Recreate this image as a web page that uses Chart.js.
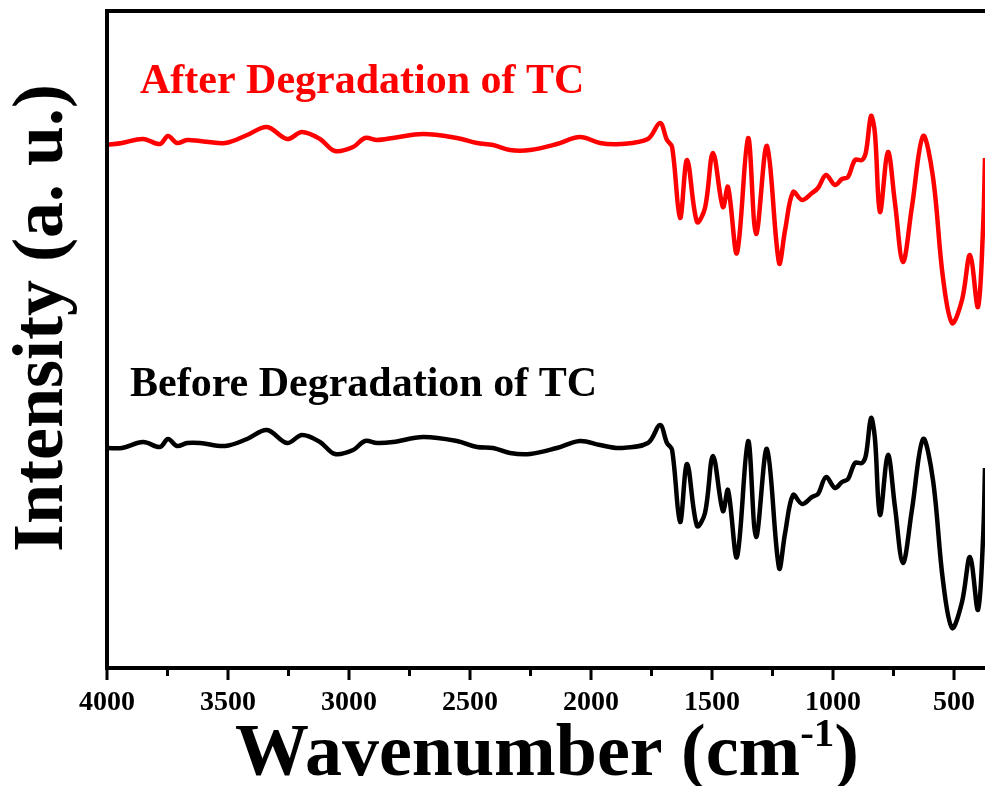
<!DOCTYPE html>
<html>
<head>
<meta charset="utf-8">
<script src="https://cdn.jsdelivr.net/npm/chart.js@4.4.1/dist/chart.umd.min.js"></script>
<style>
  html, body { margin: 0; padding: 0; background: #fff; }
  #wrap { width: 985px; height: 786px; }
</style>
</head>
<body>
<div id="wrap"><canvas id="c" width="985" height="786"></canvas></div>
<script>
// Wavenumber positions (cm-1)
const wavenumbers = [
  4000, 3938, 3851, 3781, 3748, 3711, 3669, 3616, 3512, 3421,
  3339, 3256, 3194, 3120, 3058, 2983, 2934, 2884, 2818, 2694,
  2554, 2471, 2405, 2335, 2252, 2141, 2046, 1963, 1880, 1765,
  1715, 1686, 1665, 1632, 1603, 1562, 1529, 1496, 1455, 1434,
  1397, 1351, 1318, 1273, 1223, 1198, 1165, 1128, 1087, 1062,
  1029, 992, 963, 938, 909, 880, 864, 843, 827, 806,
  773, 744, 711, 674, 628, 587, 546, 508, 467, 434,
  401, 380, 372
];
// Intensity (a. u.) - after degradation (offset trace, red)
const afterDegradation = [
  523, 525, 529, 524, 532, 525, 528, 527, 525, 533,
  541, 529, 536, 529, 517, 521, 530, 528, 530, 534,
  530, 525, 523, 518, 518, 524, 531, 525, 524, 529,
  545, 528, 521, 450, 508, 446, 460, 515, 461, 481,
  415, 530, 434, 522, 405, 438, 476, 468, 475, 480,
  493, 483, 489, 491, 508, 508, 516, 552, 535, 456,
  516, 465, 406, 461, 532, 491, 391, 345, 368, 413,
  361, 440, 510
];
// Intensity (a. u.) - before degradation (black)
const beforeDegradation = [
  220, 220, 226, 221, 229, 222, 225, 225, 222, 229,
  238, 225, 233, 226, 214, 218, 227, 225, 226, 231,
  227, 221, 220, 215, 214, 220, 227, 223, 220, 225,
  243, 225, 218, 146, 204, 142, 155, 212, 157, 178,
  111, 227, 131, 219, 100, 135, 173, 164, 171, 174,
  191, 180, 186, 189, 205, 205, 213, 250, 230, 153,
  213, 161, 105, 158, 229, 188, 88, 40, 66, 111,
  58, 130, 200
];
const majorTicks = [4000, 3500, 3000, 2500, 2000, 1500, 1000, 500];
const minorTicks = [3750, 3250, 2750, 2250, 1750, 1250, 750];
const seriesLabels = ['After Degradation of TC', 'Before Degradation of TC'];

const FONT = '"Liberation Serif", "Times New Roman", serif';

const decorPlugin = {
  id: 'decor',
  afterDraw(chart) {
    const ctx = chart.ctx;
    const area = chart.chartArea;
    const left = area.left, right = area.right, top = area.top, bottom = area.bottom;
    const xs = chart.scales.x;
    ctx.save();
    ctx.fillStyle = '#000';
    // frame: top, left, bottom
    ctx.fillRect(left - 2, top - 2, right - left + 10, 4);
    ctx.fillRect(left - 2, top - 2, 4, bottom - top + 4);
    ctx.fillRect(left - 2, bottom - 2, right - left + 10, 4);
    // outward tick marks
    majorTicks.forEach(v => {
      const px = xs.getPixelForValue(v);
      ctx.fillRect(px - 1.5, bottom, 3, 12);
    });
    minorTicks.forEach(v => {
      const px = xs.getPixelForValue(v);
      ctx.fillRect(px - 1.5, bottom, 3, 8);
    });

    // x title with superscript
    ctx.textBaseline = 'alphabetic';
    ctx.textAlign = 'left';
    const bigF = '700 74px ' + FONT, supF = '700 41px ' + FONT;
    ctx.font = bigF; const p1 = 'Wavenumber (cm'; const w1 = ctx.measureText(p1).width;
    const w3 = ctx.measureText(')').width;
    ctx.font = supF; const w2 = ctx.measureText('-1').width;
    const total = w1 + w2 + w3;
    const sx = 547 - total / 2;
    const by = 775;
    ctx.font = bigF; ctx.fillText(p1, sx, by);
    ctx.font = supF; ctx.fillText('-1', sx + w1, by - 29);
    ctx.font = bigF; ctx.fillText(')', sx + w1 + w2, by);

    // y title
    ctx.save();
    ctx.translate(62, 318);
    ctx.rotate(-Math.PI / 2);
    ctx.textAlign = 'center';
    ctx.font = '700 72px ' + FONT;
    ctx.fillText('Intensity (a. u.)', 0, 0);
    ctx.restore();

    // series annotations
    ctx.font = '700 42px ' + FONT;
    ctx.textAlign = 'left';
    ctx.fillStyle = '#ff0000';
    ctx.fillText(seriesLabels[0], 140, 93);
    ctx.fillStyle = '#000';
    ctx.fillText(seriesLabels[1], 130, 396);
    ctx.restore();
  }
};

const toPoints = arr => wavenumbers.map((w, i) => ({ x: w, y: arr[i] }));

new Chart(document.getElementById('c'), {
  type: 'line',
  data: {
    datasets: [
      { label: seriesLabels[0], data: toPoints(afterDegradation), borderColor: '#ff0000',
        borderWidth: 4.5, pointRadius: 0, tension: 0.35, fill: false },
      { label: seriesLabels[1], data: toPoints(beforeDegradation), borderColor: '#000000',
        borderWidth: 4.5, pointRadius: 0, tension: 0.35, fill: false }
    ]
  },
  options: {
    responsive: false,
    animation: false,
    events: [],
    layout: { padding: { top: 11, right: 0, left: 0, bottom: 0 } },
    plugins: { legend: { display: false }, tooltip: { enabled: false }, title: { display: false } },
    scales: {
      x: {
        type: 'linear',
        reverse: true,
        min: 372,
        max: 4000,
        grid: { display: false, drawTicks: true, tickLength: 18 },
        border: { display: false },
        afterBuildTicks: s => { s.ticks = majorTicks.map(v => ({ value: v })); },
        afterFit: s => { s.height = 118; },
        ticks: {
          autoSkip: false, maxRotation: 0, color: '#000', padding: 0,
          callback: v => String(v),
          font: { family: FONT, size: 28, weight: '700' }
        }
      },
      y: {
        min: 0,
        max: 657,
        grid: { display: false, drawTicks: false },
        border: { display: false },
        ticks: { display: false },
        afterFit: s => { s.width = 107; }
      }
    }
  },
  plugins: [decorPlugin]
});
</script>
</body>
</html>
